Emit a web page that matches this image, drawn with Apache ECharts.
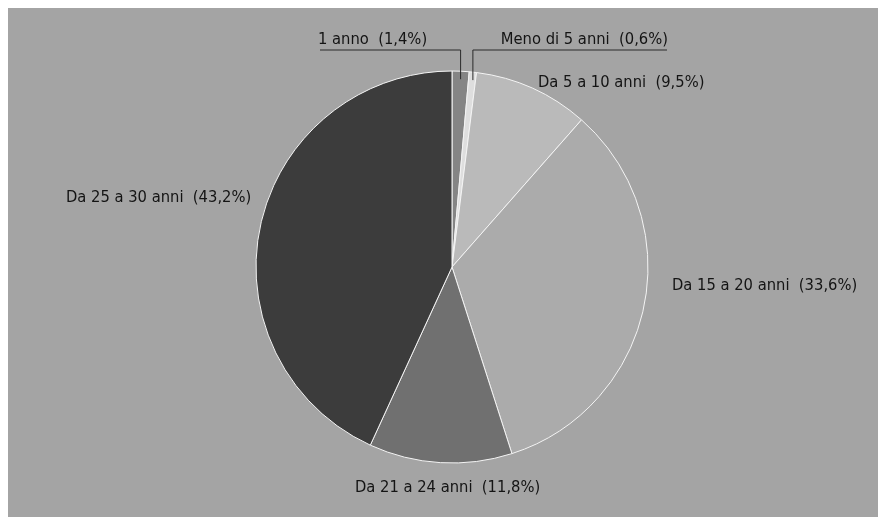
<!DOCTYPE html>
<html>
<head>
<meta charset="utf-8">
<script src="https://cdn.jsdelivr.net/npm/echarts@6/dist/echarts.min.js"></script>
<style>
  html, body { margin: 0; padding: 0; background: #ffffff; }
  #chart { width: 878px; height: 517px; }
</style>
</head>
<body>
<div id="chart"></div>
<script>
// Distribuzione per fascia di anni (valori in %), in senso orario dall'alto
const categories = ['1 anno', 'Meno di 5 anni', 'Da 5 a 10 anni', 'Da 15 a 20 anni', 'Da 21 a 24 anni', 'Da 25 a 30 anni'];
const values = [1.4, 0.6, 9.5, 33.6, 11.8, 43.2];
const sliceColors = ['#858585', '#dedede', '#bababa', '#ababab', '#707070', '#3c3c3c'];

// Layout of the pie and its labels
const CX = 452, CY = 267, R = 196;
const FONT = '"Liberation Sans Narrow", "Arial Narrow", "DejaVu Sans Condensed", sans-serif';
const labelPlace = [
  { x: 318, y: 40, align: 'left',  leaderY: 50, leaderEnd: 320 },
  { x: 668, y: 40, align: 'right', leaderY: 50, leaderEnd: 667 },
  { x: 538, y: 83, align: 'left' },
  { x: 672, y: 286, align: 'left' },
  { x: 355, y: 488, align: 'left' },
  { x: 66,  y: 198, align: 'left' }
];

const fmt = v => v.toFixed(1).replace('.', ',');

// Leader lines for the two thin slices, placed from each slice's mid angle
const total = values.reduce((a, b) => a + b, 0);
const leaders = [];
let cum = 0;
values.forEach((v, i) => {
  const mid = (cum + v / 2) / total * 2 * Math.PI;
  cum += v;
  const p = labelPlace[i];
  if (p.leaderY === undefined) return;
  const px = CX + R * Math.sin(mid);
  const py = CY - R * Math.cos(mid);
  leaders.push({
    type: 'polyline',
    silent: true,
    z: 10,
    shape: { points: [[px, py + 8], [px, p.leaderY], [p.leaderEnd, p.leaderY]] },
    style: { stroke: '#2a2a2a', lineWidth: 1, fill: null }
  });
});

const chart = echarts.init(document.getElementById('chart'), null, { renderer: 'canvas' });
chart.setOption({
  backgroundColor: '#ffffff',
  animation: false,
  graphic: [
    { type: 'rect', z: -10, silent: true, shape: { x: 8, y: 8, width: 870, height: 509 }, style: { fill: '#a4a4a4' } }
  ].concat(leaders),
  series: [{
    type: 'pie',
    center: [CX, CY],
    radius: R,
    startAngle: 90,
    clockwise: true,
    avoidLabelOverlap: false,
    minAngle: 0,
    itemStyle: { borderColor: '#f4f4f4', borderWidth: 1 },
    label: {
      show: true,
      position: 'outside',
      fontFamily: FONT,
      fontSize: 16.4,
      color: '#141414',
      formatter: p => p.name + '  (' + fmt(p.value) + '%)'
    },
    labelLine: { show: false },
    labelLayout: params => {
      const p = labelPlace[params.dataIndex];
      return { x: p.x, y: p.y, align: p.align, verticalAlign: 'middle' };
    },
    data: categories.map((c, i) => ({ name: c, value: values[i], itemStyle: { color: sliceColors[i] } }))
  }]
});
</script>
</body>
</html>
